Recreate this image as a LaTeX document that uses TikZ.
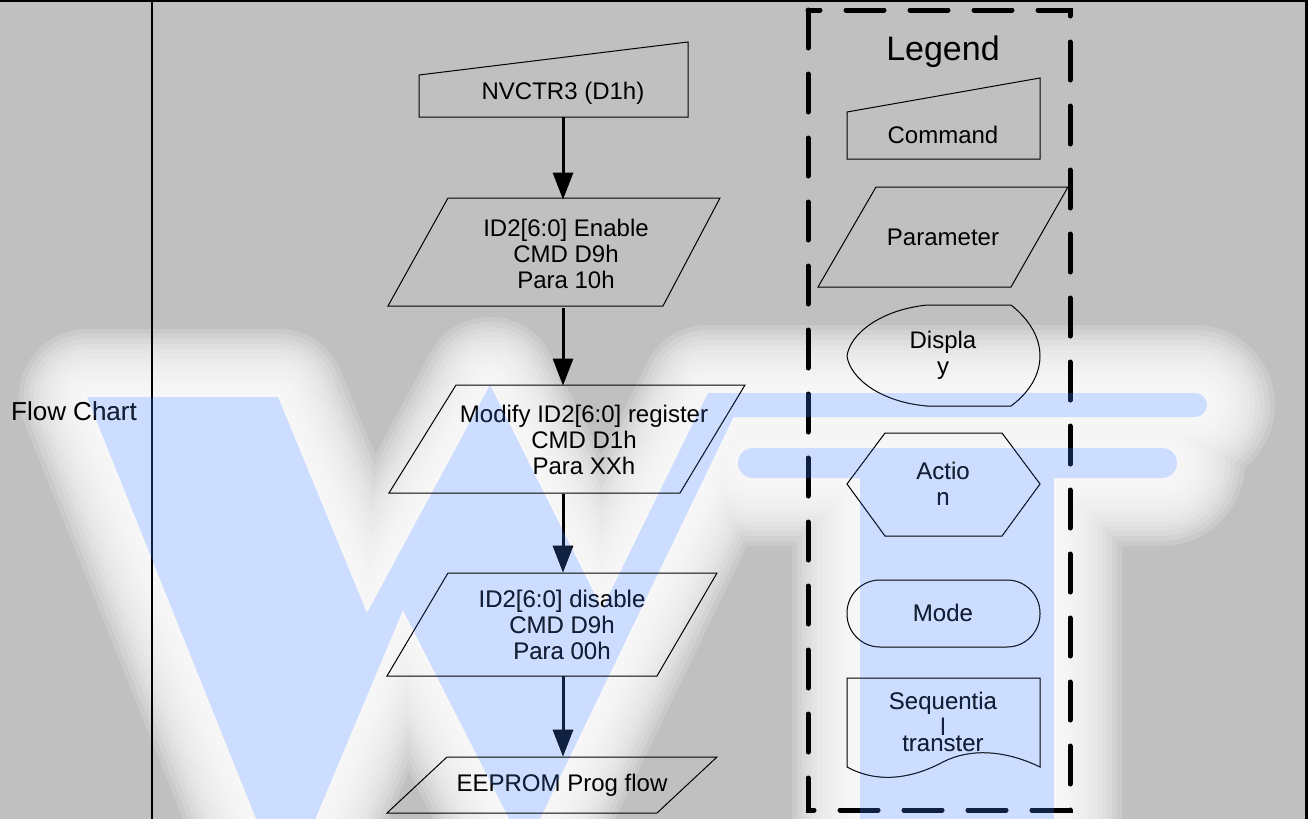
\documentclass[tikz,border=0pt]{standalone}
\usepackage{fontspec}
\setmainfont{Liberation Sans}
\usepackage{xcolor}
\usepackage{tikz}
\usetikzlibrary{arrows.meta}
\definecolor{panelgray}{RGB}{192,192,192}
\definecolor{markblue}{RGB}{204,221,255}
\definecolor{markink}{RGB}{16,32,64}
\newcommand{\flowfont}{\fontsize{12pt}{13pt}\selectfont}

\begin{document}
\begin{tikzpicture}[x=0.5pt, y=-0.5pt,
  txt/.style={inner sep=0pt, align=center, font=\flowfont},
  outline/.style={draw=black, line width=0.5pt},
  flow/.style={line width=1.5pt, -{Triangle[length=13.5pt, width=10pt]}}]
\useasboundingbox (0,0) rectangle (1308,819);
\fill[panelgray] (0,0) rectangle (1308,819);

\def\markW{(87,397) -- (278,397) -- (367,613) -- (490,385) -- (602,609) -- (708,393) -- (745,393) -- (525,850) -- (403,610) -- (285,891) -- cycle}
\def\markTa{[rounded corners=6pt] (712,393) rectangle (1207,417)}
\def\markTb{[rounded corners=7.5pt] (738,448) rectangle (1177,478)}
\def\markTc{[sharp corners] (860,477) rectangle (1054,900)}

\begin{scope}
\clip (0,0) rectangle (1308,819);
\foreach \w in {68,63,...,3}
  \draw[white, opacity=0.17, line width=\w pt, line join=round] \markW \markTa \markTb \markTc;
\fill[markblue] \markW;
\fill[markblue] \markTa;
\fill[markblue] \markTb;
\fill[markblue] \markTc;
\end{scope}

\draw[line width=1pt] (0,1) -- (1308,1);
\draw[line width=1pt] (152,0) -- (152,819);
\draw[line width=1.5pt] (1306,0) -- (1306,819);

\node[txt, font=\fontsize{13pt}{15pt}\selectfont] (rowlabel) at (74,411) {Flow Chart};

\draw[outline] (419,117) -- (688,117) -- (688,42) -- (419,75) -- cycle;
\draw[outline] (448,198) -- (720,198) -- (663,306) -- (388,306) -- cycle;
\draw[outline] (456,385) -- (745,385) -- (680,493) -- (389,493) -- cycle;
\draw[outline] (448,573) -- (717,573) -- (657,676) -- (387,676) -- cycle;
\draw[outline] (447,757) -- (717,757) -- (657,813) -- (387,813) -- cycle;

\node[txt, minimum height=24pt] (nv) at (563,93) {NVCTR3 (D1h)};
\node[txt, minimum height=54pt] (en) at (566,254) {ID2[6:0] Enable\\CMD D9h\\Para 10h};
\node[txt, minimum height=54pt] (md) at (584,440) {Modify ID2[6:0] register\\CMD D1h\\Para XXh};
\node[txt, minimum height=51.5pt] (dis) at (562,624.5) {ID2[6:0] disable\\CMD D9h\\Para 00h};
\node[txt, minimum height=28pt] (ee) at (562,785) {EEPROM Prog flow};

\draw[flow] (nv.south) -- (nv.south |- en.north);
\draw[flow] (nv.south |- en.south) -- (nv.south |- md.north);
\draw[flow] (nv.south |- md.south) -- (nv.south |- dis.north);
\draw[flow] (nv.south |- dis.south) -- (nv.south |- ee.north);

\draw[line width=2.5pt, dash pattern=on 19pt off 13pt, line cap=round] (808,10) rectangle (1070,810);
\node[txt, font=\fontsize{17pt}{20pt}\selectfont] (legendtitle) at (943,52) {Legend};

\draw[outline] (847,159) -- (1040,159) -- (1040,78) -- (847,112) -- cycle;
\node[txt] (cmdkey) at (943,135) {Command};

\draw[outline] (876,187) -- (1068,187) -- (1011,287) -- (818,287) -- cycle;
\node[txt] (parakey) at (943,237) {Parameter};

\draw[outline] (927,305) -- (1011,305) .. controls (1030,320) and (1040,338) .. (1040,356)
  .. controls (1040,374) and (1030,392) .. (1011,406) -- (927,406)
  .. controls (880,402) and (850,378) .. (847,356)
  .. controls (850,334) and (880,310) .. cycle;
\node[txt] (dispkey) at (943,355) {Displa\\y};

\draw[outline] (847,484) -- (885,433) -- (1002,433) -- (1040,484) -- (1002,536) -- (885,536) -- cycle;
\node[txt] (actkey) at (943,484) {Actio\\n};

\draw[outline, rounded corners=16.5pt] (847,580) rectangle (1040,647);
\node[txt] (modekey) at (943,613) {Mode};

\draw[outline] (847,678) -- (1040,678) -- (1040,767)
  .. controls (1005,750) and (970,748) .. (943,762)
  .. controls (915,777) and (880,785) .. (847,767) -- cycle;
\node[txt] (seqkey) at (943,722) {Sequentia\\l\\[-5pt]transter};

\begin{scope}[blend mode=lighten]
\fill[markink] \markW;
\fill[markink] \markTa;
\fill[markink] \markTb;
\fill[markink] \markTc;
\end{scope}
\end{tikzpicture}
\end{document}
